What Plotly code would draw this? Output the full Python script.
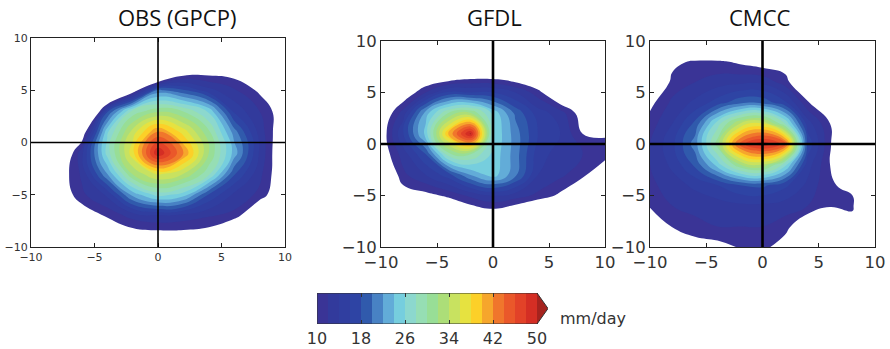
import plotly.graph_objects as go

# ---------------- data ----------------
titles = ["OBS (GPCP)", "GFDL", "CMCC"]

x_nodes = [-10, -8, -6, -4, -2, 0, 2, 4, 6, 8, 10]
y_odd = [9, 7, 5, 3, 1, -1, -3, -5, -7, -9]          # rows listed top -> bottom
y_even = [10, 8, 6, 4, 2, 0, -2, -4, -6, -8, -10]    # rows listed top -> bottom

# OBS (GPCP) precipitation (mm/day), rows follow y_odd
obs_rows = [
    [0, 0, 0, 0, 0, 0, 0, 0, 0, 0, 0],
    [0, 0, 0, 0, 0, -6, 6.4, 8, 8.1, 0, 0],
    [0, 0, -5, -5, 7.4, 20.5, 18.3, 14.7, 12.3, 9.5, 0],
    [0, -5, -8, 17.5, 28.6, 31.6, 29.9, 25.6, 15.5, 12, 8],
    [0, 0, 7.25, 25.6, 34.9, 42.2, 37.2, 30.5, 21, 13.2, 7.1],
    [0, 3.7, 13.4, 26.9, 37.3, 50, 42, 32, 23.2, 13.7, 6.3],
    [0, 7.6, 12.4, 22, 32.2, 36.5, 34, 28.6, 18.3, 12.6, 7.1],
    [0, 7.2, 11.5, 14.4, 22.6, 26.9, 25, 17.8, 13.5, 11.5, 6.5],
    [0, 0, 8, 10.5, 12.8, 13.8, 13.2, 12.2, 11.4, 5.5, 0],
    [0, 0, 0, 0, 8.1, 8.4, 8.5, 8.2, 2.1, 0, 0],
]

# GFDL, rows follow y_odd
gfdl_rows = [
    [0, 0, 0, 0, 0, 0, 0, 0, 0, 0, 0],
    [0, 0, 5.3, 4.7, 6.8, 6.8, 6, 4.3, 0, 0, 0],
    [0, 7.6, 12, 16.5, 16, 16, 14, 11, 6, 0, 0],
    [7, 13, 23, 30, 32, 25.5, 19.5, 15, 13, 8.5, 0],
    [8, 16, 25, 40, 50.5, 26, 21, 16, 14, 10, 9.5],
    [8, 13, 18, 29, 30, 25.5, 21, 15, 13, 12, 12],
    [5.5, 11.5, 14, 17, 22, 25, 20.5, 14, 12.5, 10.5, 5],
    [0, 8.5, 9.2, 10.5, 12.5, 14, 13, 11.5, 9.5, 8, 0],
    [0, 0, 0, 5.5, 6.9, 7.8, 6.3, 4, 0, 0, 0],
    [0, 0, 0, 0, 0, 0, 0, 0, 0, 0, 0],
]

# CMCC, rows follow y_even
cmcc_rows = [
    [0, 0, 0, 0, 0, 0, 0, 0, 0, 0, 0],
    [0, 9.2, 10.4, 10.4, 9.5, 8.5, 8.5, 0, 0, 0, 0],
    [5, 10.8, 12, 13, 13.5, 13.5, 11, 6, 0, 0, 0],
    [9.3, 12.5, 14.5, 17, 19.5, 19.5, 16.5, 10.5, 5, 0, 0],
    [11, 14, 18.5, 27, 34, 36, 28, 15, 10, 3, 0],
    [12, 15.5, 21, 31, 45, 49.5, 45, 17.5, 10.3, 4, 0],
    [12, 14.5, 18.5, 25, 32, 34, 27, 15, 10, 4, 0],
    [11.5, 13, 14.5, 16, 18, 18.5, 16.5, 13.5, 10.2, 9.5, 0],
    [10.5, 12, 12.5, 13, 13.5, 13.5, 13, 12, 10.3, 10.5, 0],
    [5, 10.3, 11.5, 12, 12, 12, 11, 7, 5, 8.5, 0],
    [0, 5, 8.5, 9.1, 10.2, 10.8, 8.5, 0, 0, 0, 0],
]

level_start, level_end, level_step = 10, 50, 2
band_colors = [
    "#3a3496", "#323a9c", "#303ea0", "#2e44a4", "#305aac",
    "#4882c4", "#62acd8", "#76cede", "#8cd8ce", "#96deb4",
    "#98de96", "#acde78", "#c8e260", "#e6e240", "#fcd028",
    "#f6a62c", "#f0762c", "#ea582a", "#e24228", "#d42e24",
]
over_color = "#a5231e"
cbar_ticks = [10, 18, 26, 34, 42, 50]
unit_label = "mm/day"

# ---------------- colour scale ----------------
n_lev = (level_end - level_start) // level_step + 1
span = n_lev * level_step              # colour-map span used by plotly contour fills
cmin = level_start - level_step / 2
colorscale = [[0.0, "#ffffff"]]
for k, c in enumerate(band_colors):
    mid = level_start + level_step * k + level_step / 2
    colorscale.append([(mid - cmin) / span, c])
colorscale.append([1.0, over_color])

W, H = 890, 349


def px_dom(a, b):
    return [a / W, b / W]


def py_dom(top, bottom):
    return [1 - bottom / H, 1 - top / H]


def px(a):
    return a / W


def py(b):
    return 1 - b / H


panels = [
    dict(rows=obs_rows, ys=y_odd, xd=px_dom(31, 285), yd=py_dom(38, 247), tf=11, lw=1.6, tx=177),
    dict(rows=gfdl_rows, ys=y_odd, xd=px_dom(381, 605), yd=py_dom(41, 247), tf=16.5, lw=2.6, tx=494),
    dict(rows=cmcc_rows, ys=y_even, xd=px_dom(650, 875), yd=py_dom(41, 247), tf=16.5, lw=2.6, tx=760),
]

fig = go.Figure()
shapes = []
annotations = []
layout_axes = {}

for i, p in enumerate(panels):
    n = "" if i == 0 else str(i + 1)
    fig.add_trace(go.Contour(
        x=x_nodes,
        y=p["ys"][::-1],
        z=p["rows"][::-1],
        autocontour=False,
        contours=dict(start=level_start, end=level_end, size=level_step,
                      coloring="fill", showlines=False),
        line=dict(width=0, smoothing=1.3),
        colorscale=colorscale,
        showscale=False,
        hoverinfo="skip",
        xaxis="x" + n, yaxis="y" + n,
    ))
    axcommon = dict(range=[-10, 10], dtick=5, tick0=0, showgrid=False, zeroline=False,
                    showline=True, linecolor="#222", linewidth=1, mirror="allticks",
                    ticks="inside", ticklen=4, tickcolor="#222", automargin=False,
                    tickfont=dict(family="DejaVu Sans", size=p["tf"], color="#333"))
    layout_axes["xaxis" + n] = dict(axcommon, domain=p["xd"], anchor="y" + n)
    layout_axes["yaxis" + n] = dict(axcommon, domain=p["yd"], anchor="x" + n)
    # zero cross-hair
    shapes.append(dict(type="line", xref="x" + n, yref="y" + n, x0=-10, x1=10, y0=0, y1=0,
                       line=dict(color="black", width=p["lw"])))
    shapes.append(dict(type="line", xref="x" + n, yref="y" + n, x0=0, x1=0, y0=-10, y1=10,
                       line=dict(color="black", width=p["lw"])))
    annotations.append(dict(text=titles[i], xref="paper", yref="paper",
                            x=px(p["tx"]), y=py(17), xanchor="center", yanchor="middle",
                            showarrow=False,
                            font=dict(family="Open Sans", size=22, color="#111")))

# ---------------- colour bar ----------------
band_mids = [level_start + level_step * k + level_step / 2 for k in range(len(band_colors))]
fig.add_trace(go.Heatmap(
    x=band_mids, y=[0], z=[band_mids],
    zmin=cmin, zmax=cmin + span,
    colorscale=colorscale, showscale=False, hoverinfo="skip",
    xaxis="x4", yaxis="y4",
))
layout_axes["xaxis4"] = dict(domain=px_dom(317, 548), range=[level_start, level_end + 2],
                             anchor="y4", tickvals=cbar_ticks, ticks="inside", ticklen=4,
                             tickcolor="#333", tickwidth=1,
                             showline=True, linecolor="rgba(0,0,0,0)", mirror="ticks",
                             showgrid=False, zeroline=False, automargin=False,
                             tickfont=dict(family="DejaVu Sans", size=16, color="#333"))
layout_axes["yaxis4"] = dict(domain=py_dom(293, 324), range=[-0.5, 0.5], anchor="x4",
                             visible=False, automargin=False)
# extension arrow + outline
shapes.append(dict(type="path", xref="x4", yref="y4",
                   path=f"M {level_end},-0.5 L {level_end + 2},0 L {level_end},0.5 Z",
                   fillcolor=over_color, line=dict(width=0)))
shapes.append(dict(type="path", xref="x4", yref="y4",
                   path=f"M {level_start},-0.5 L {level_end},-0.5 L {level_end + 2},0 "
                        f"L {level_end},0.5 L {level_start},0.5 Z",
                   line=dict(color="#333", width=1)))
annotations.append(dict(text=unit_label, xref="paper", yref="paper", x=px(558), y=py(318),
                        xanchor="left", yanchor="middle", showarrow=False,
                        font=dict(family="DejaVu Sans", size=16, color="#333")))

fig.update_layout(
    width=W, height=H,
    margin=dict(l=0, r=0, t=0, b=0, autoexpand=False),
    paper_bgcolor="white", plot_bgcolor="white",
    showlegend=False,
    shapes=shapes, annotations=annotations,
    **layout_axes,
)

fig.write_html("out.html",
               config={"displayModeBar": False, "staticPlot": True},
               post_script="document.body.style.margin='0';document.body.style.overflow='hidden';")
